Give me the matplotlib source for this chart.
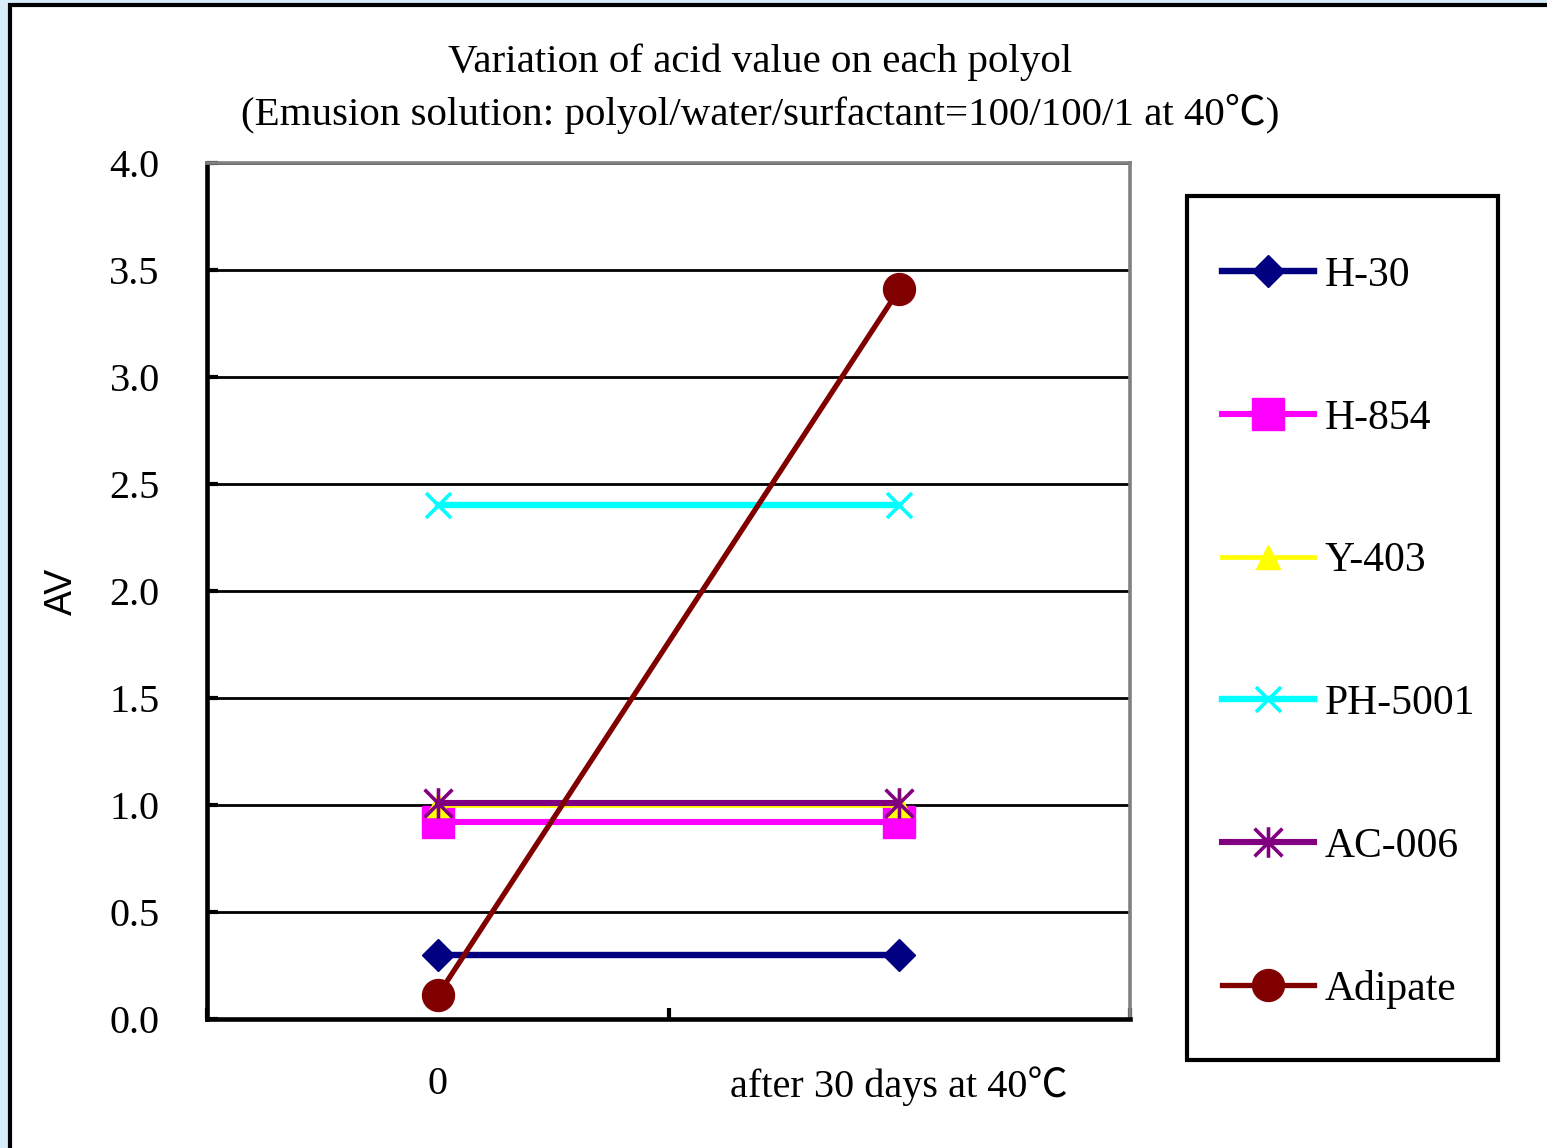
import matplotlib.pyplot as plt
from matplotlib.path import Path
from matplotlib.patches import Rectangle

plt.rcParams['font.family'] = ['Liberation Serif', 'Noto Sans CJK JP']

# acid value (AV) of each polyol, before and after storage
categories = ['0', 'after 30 days at 40℃']
names = ['H-30', 'H-854', 'Y-403', 'PH-5001', 'AC-006', 'Adipate']
h30 = [0.30, 0.30]
h854 = [0.92, 0.92]
y403 = [1.00, 1.00]
ph5001 = [2.40, 2.40]
ac006 = [1.01, 1.01]
adipate = [0.11, 3.41]

# vertical bar + diagonal cross
star = Path([(-1, -1), (1, 1), (-1, 1), (1, -1), (0, -1.1), (0, 1.1)],
            [Path.MOVETO, Path.LINETO, Path.MOVETO, Path.LINETO, Path.MOVETO, Path.LINETO])

styles = [
    dict(color='#000080', marker='D', ms=16, lw=4.6),
    dict(color='#ff00ff', marker='s', ms=23, lw=4.4),
    dict(color='#ffff00', marker='^', ms=17, lw=3.4),
    dict(color='#00ffff', marker='x', ms=18, lw=4.6, mew=2.6),
    dict(color='#800080', marker=star, ms=22, lw=4.4, mew=2.6),
    dict(color='#800000', marker='o', ms=23, lw=3.8),
]

W, H = 1547, 1148
fig = plt.figure(figsize=(W / 100, H / 100), dpi=100, facecolor='#d7ecfb')
# white chart area with a dark frame
fig.patches.append(Rectangle((10 / W, -0.02), 1.1, 1.02 - 5 / H, transform=fig.transFigure,
                             facecolor='white', edgecolor='black', lw=3, zorder=-10))
# legend box
fig.patches.append(Rectangle((1187 / W, 1 - 1060 / H), 311 / W, 864 / H, transform=fig.transFigure,
                             facecolor='none', edgecolor='black', lw=3, zorder=5))

ax = fig.add_axes([207 / W, 1 - 1019 / H, 923 / W, 856 / H])
ax.set_facecolor('white')

x = range(len(categories))
for name, vals, st in zip(names, [h30, h854, y403, ph5001, ac006, adipate], styles):
    ax.plot(x, vals, label=name, **st)

ax.set_xlim(-0.5, 1.5)
ax.set_ylim(0, 4.0)
ax.set_yticks([i * 0.5 for i in range(9)])
ax.set_yticklabels([f'{i * 0.5:.1f}' for i in range(9)])
ax.set_xticks(list(x))
ax.set_xticklabels(categories)
ax.set_xticks([-0.5, 0.5, 1.5], minor=True)
ax.tick_params(axis='x', which='major', length=0, pad=34, labelsize=29)
ax.tick_params(axis='x', which='minor', direction='in', length=8, width=3, color='black')
ax.tick_params(axis='y', direction='in', length=8, width=3, pad=34, labelsize=29)

ax.set_axisbelow(True)
ax.yaxis.grid(True, color='black', lw=2)

for side in ['left', 'bottom']:
    ax.spines[side].set_color('black')
    ax.spines[side].set_linewidth(3.3)
for side in ['top', 'right']:
    ax.spines[side].set_color('#808080')
    ax.spines[side].set_linewidth(2.6)

ax.set_ylabel('AV', family='Liberation Sans', fontsize=27)
ax.yaxis.set_label_coords(-0.138, 0.5)

fig.text(0.4913, 0.9225,
         'Variation of acid value on each polyol\n'
         '(Emusion solution: polyol/water/surfactant=100/100/1 at 40℃)',
         ha='center', va='center', fontsize=29.5, linespacing=1.4)

leg = ax.legend(bbox_to_anchor=(1187 / W, 1 - 221 / H), bbox_transform=fig.transFigure,
                loc='upper left', numpoints=1, fontsize=30,
                handlelength=2.2, handletextpad=0.25, borderpad=0.85, labelspacing=2.5,
                borderaxespad=0, frameon=False)

fig.savefig('out.png', dpi=100, facecolor=fig.get_facecolor())
